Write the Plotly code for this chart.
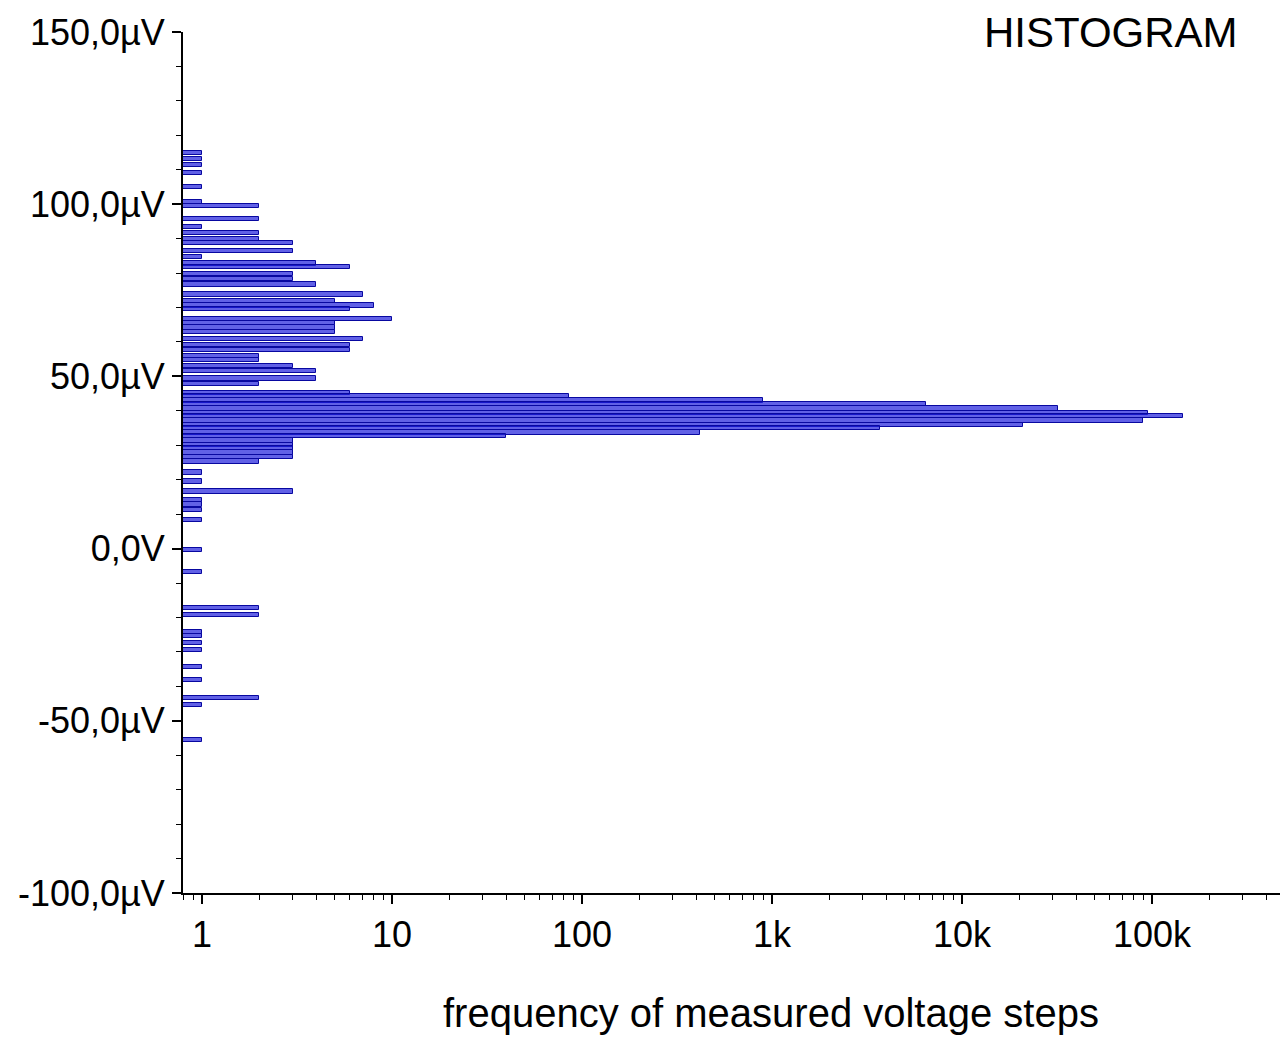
import plotly.graph_objects as go

# Histogram bins: voltage step (µV) and frequency
voltage_uV = [114.8, 113.1, 111.3, 109.0, 104.9, 100.6, 99.4, 95.6, 93.3, 91.6,
              89.8, 88.7, 86.3, 84.6, 82.8, 81.7, 79.7, 78.2, 76.7, 73.8,
              71.8, 70.6, 69.5, 66.6, 65.4, 64.2, 62.8, 60.8, 59.0, 57.6,
              55.8, 54.7, 52.9, 51.5, 49.4, 47.7, 45.3, 44.2, 43.0, 41.9,
              40.7, 39.5, 38.4, 37.2, 36.0, 34.9, 33.7, 32.6, 31.4, 30.2,
              29.1, 27.9, 26.7, 25.3, 22.1, 19.5, 16.6, 14.2, 12.8, 11.3,
              8.4, -0.3, -6.7, -17.2, -19.2, -24.1, -25.3, -27.3, -29.4, -34.3,
              -38.1, -43.3, -45.3, -55.5]
counts = [1, 1, 1, 1, 1, 1, 2, 2, 1, 2,
          2, 3, 3, 1, 4, 6, 3, 3, 4, 7,
          5, 8, 6, 10, 5, 5, 5, 7, 6, 6,
          2, 2, 3, 4, 4, 2, 6, 85, 900, 6500,
          32000, 95000, 145000, 90000, 21000, 3700, 420, 40, 3, 3,
          3, 3, 3, 2, 1, 1, 3, 1, 1, 1,
          1, 1, 1, 2, 2, 1, 1, 1, 1, 1,
          1, 2, 1, 1]

y_tickvals = [150, 100, 50, 0, -50, -100]
y_ticktext = ["150,0µV", "100,0µV", "50,0µV", "0,0V", "-50,0µV", "-100,0µV"]
x_tickvals = [1, 10, 100, 1000, 10000, 100000]
x_ticktext = ["1", "10", "100", "1k", "10k", "100k"]

x_minor = [m * 10 ** d for d in range(-1, 6) for m in range(2, 10)]

FONT = "Liberation Sans, Arial, sans-serif"

fig = go.Figure()
fig.add_trace(go.Bar(
    x=counts, y=voltage_uV, orientation="h", width=1.2,
    marker=dict(color="rgba(30,30,220,0.7)", line=dict(color="#0808a0", width=1)),
    showlegend=False,
))

fig.update_layout(
    width=1280, height=1030,
    margin=dict(l=175, r=0, t=24, b=145),
    paper_bgcolor="white", plot_bgcolor="white",
    font=dict(family=FONT, color="black", size=36),
    bargap=0,
    xaxis=dict(
        type="log", range=[-0.1, 5.716],
        tickvals=x_tickvals, ticktext=x_ticktext,
        ticks="outside", ticklen=9, tickwidth=1.5, tickcolor="black",
        showline=True, linecolor="black", linewidth=2,
        showgrid=False, zeroline=False,
        tickfont=dict(size=36, family=FONT),
        minor=dict(tickvals=x_minor, ticks="outside", ticklen=5, tickcolor="black",
                   tickwidth=1, showgrid=False),
    ),
    yaxis=dict(
        range=[-100, 150],
        tickvals=y_tickvals, ticktext=y_ticktext,
        ticks="outside", ticklen=9, tickwidth=2, tickcolor="black",
        showline=True, linecolor="black", linewidth=2,
        showgrid=False, zeroline=False,
        tickfont=dict(size=36, family=FONT),
        minor=dict(dtick=10, ticks="outside", ticklen=5, tickcolor="black", tickwidth=1, showgrid=False),
    ),
    annotations=[
        dict(text="HISTOGRAM", xref="paper", yref="paper", x=(1240 - 183) / 1105, y=1.0,
             xanchor="right", yanchor="middle", showarrow=False,
             font=dict(size=42, family=FONT, color="black")),
        dict(text="frequency of measured voltage steps", xref="paper", yref="paper",
             x=(771 - 183) / 1105, y=-(1013 - 893) / 861, xanchor="center", yanchor="middle",
             showarrow=False, font=dict(size=40, family=FONT, color="black")),
    ],
)

fig.write_html("out.html")
